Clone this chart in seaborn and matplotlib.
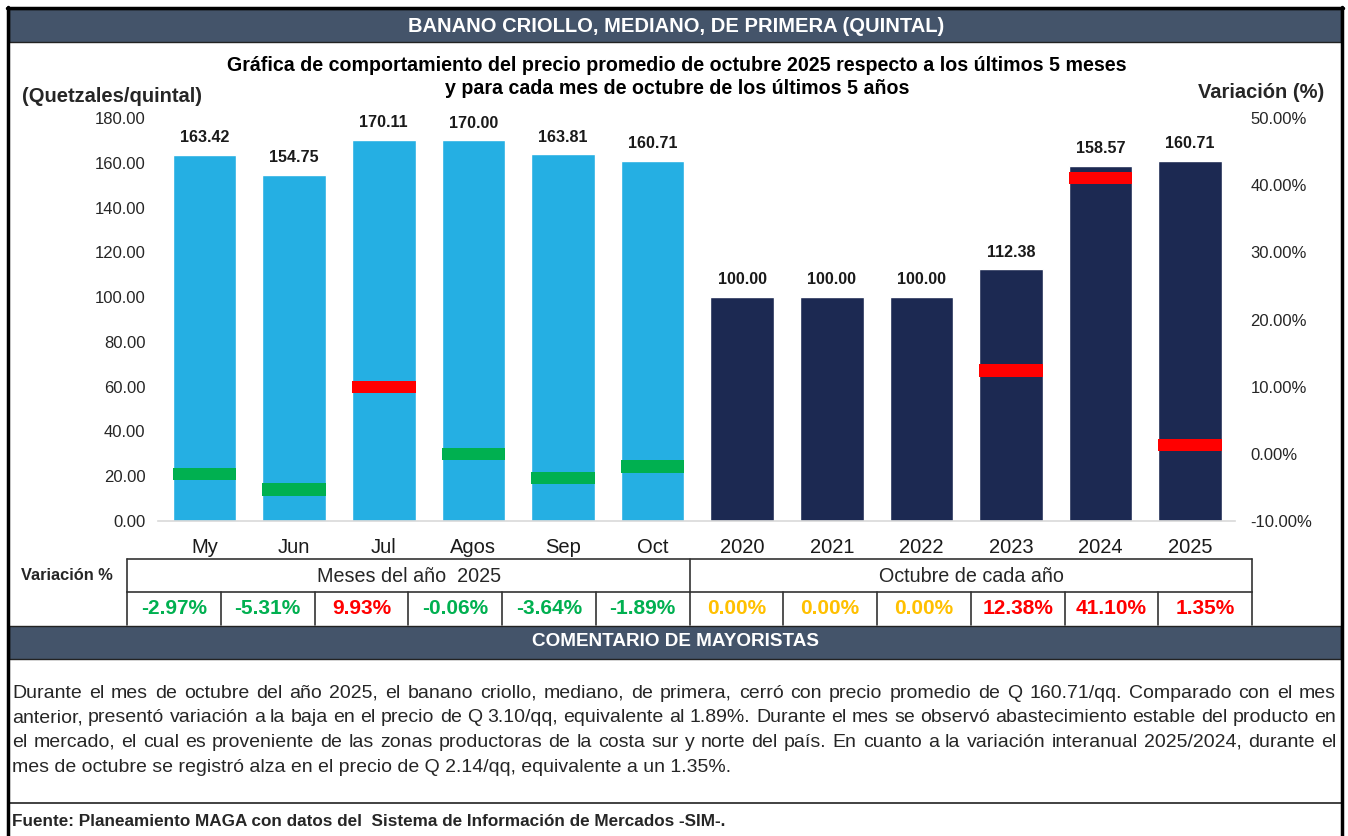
import matplotlib
matplotlib.use('Agg')
import matplotlib.pyplot as plt
import numpy as np
import pandas as pd
import seaborn as sns
from matplotlib.patches import Rectangle
from matplotlib.lines import Line2D
from matplotlib.ticker import FuncFormatter, MultipleLocator

# data
categorias = ['My', 'Jun', 'Jul', 'Agos', 'Sep', 'Oct',
              '2020', '2021', '2022', '2023', '2024', '2025']
grupos = ['mes'] * 6 + ['anio'] * 6
precios = [163.42, 154.75, 170.11, 170.00, 163.81, 160.71,
           100.00, 100.00, 100.00, 112.38, 158.57, 160.71]
variacion = [-2.97, -5.31, 9.93, -0.06, -3.64, -1.89,
             0.00, 0.00, 0.00, 12.38, 41.10, 1.35]
variacion_txt = ['-2.97%', '-5.31%', '9.93%', '-0.06%', '-3.64%', '-1.89%',
                 '0.00%', '0.00%', '0.00%', '12.38%', '41.10%', '1.35%']

titulo = 'BANANO CRIOLLO, MEDIANO, DE PRIMERA (QUINTAL)'
subtitulo = ('Gráfica de comportamiento del precio promedio de octubre 2025 respecto a los últimos 5 meses\n'
             'y para cada mes de octubre de los últimos 5 años')
comentario = [
    'Durante el mes de octubre del año 2025, el banano criollo, mediano, de primera, cerró con precio promedio de Q 160.71/qq. Comparado con el mes',
    'anterior, presentó variación a la baja en el precio de Q 3.10/qq, equivalente al 1.89%. Durante el mes se observó abastecimiento estable del producto en',
    'el mercado, el cual es proveniente de las zonas productoras de la costa sur y norte del país. En cuanto a la variación interanual 2025/2024, durante el',
    'mes de octubre se registró alza en el precio de Q 2.14/qq, equivalente a un 1.35%.',
]
fuente = 'Fuente: Planeamiento MAGA con datos del  Sistema de Información de Mercados -SIM-.'

AZUL = '#25AFE3'
MARINO = '#1C2952'
PIZARRA = '#44546A'
VERDE = '#00B050'
ROJO = '#FF0000'
AMARILLO = '#FFC000'

sns.set_style('white')
plt.rcParams['font.family'] = ['Liberation Sans', 'DejaVu Sans']

W, H = 1348, 836
fig = plt.figure(figsize=(W / 100, H / 100), dpi=100)


def fx(x):
    return x / W


def fy(y):
    return 1 - y / H


def caja(x0, y0, x1, y1, **kw):
    fig.add_artist(Rectangle((fx(x0), fy(y1)), (x1 - x0) / W, (y1 - y0) / H,
                             transform=fig.transFigure, **kw))


def linea(xs, ys, **kw):
    fig.add_artist(Line2D([fx(x) for x in xs], [fy(y) for y in ys],
                          transform=fig.transFigure, **kw))


# chart area
ax = fig.add_axes([fx(158), fy(521), (1235 - 158) / W, (521 - 118) / H])
df = pd.DataFrame({'categoria': categorias, 'precio': precios, 'grupo': grupos})
sns.barplot(data=df, x='categoria', y='precio', hue='grupo', dodge=False,
            palette={'mes': AZUL, 'anio': MARINO}, saturation=1, width=0.71,
            legend=False, ax=ax)
for cont in ax.containers:
    ax.bar_label(cont, fmt='%.2f', padding=7, fontsize=11.6, fontweight='bold',
                 color='#1a1a1a')
ax.set_ylim(0, 180)
ax.set_xlim(-0.52, 11.5)
ax.yaxis.set_major_locator(MultipleLocator(20))
ax.yaxis.set_major_formatter(FuncFormatter(lambda v, p: f'{v:.2f}'))
ax.set_xlabel('')
ax.set_ylabel('')
ax.tick_params(axis='y', length=0, pad=9, labelsize=12, labelcolor='#262626')
ax.tick_params(axis='x', length=0, pad=12, labelsize=14.5, labelcolor='#1a1a1a')
for s in ['top', 'right', 'left']:
    ax.spines[s].set_visible(False)
ax.spines['bottom'].set_color('#D9D9D9')
ax.spines['bottom'].set_linewidth(1.2)

# variation markers on the secondary axis
ax2 = ax.twinx()
ax2.set_ylim(-10, 50)
grosor = 1.85
pos = np.arange(len(categorias))
for p, v in zip(pos, variacion):
    if v == 0:
        continue
    ax2.bar(p, grosor, bottom=v - grosor / 2, width=0.71,
            color=VERDE if v < 0 else ROJO, linewidth=0)
ax2.yaxis.set_major_locator(MultipleLocator(10))
ax2.yaxis.set_major_formatter(FuncFormatter(lambda v, p: f'{v:.2f}%'))
ax2.tick_params(axis='y', length=0, pad=11, labelsize=12, labelcolor='#262626')
for s in ax2.spines.values():
    s.set_visible(False)
ax2.grid(False)
ax.grid(False)

# header bars
caja(9, 9, 1341, 42, facecolor=PIZARRA, edgecolor='#222222', linewidth=1)
fig.text(fx(676), fy(26), titulo, ha='center', va='center', color='white',
         fontsize=14.5, fontweight='bold')
fig.text(fx(677), fy(77), subtitulo, ha='center', va='center', color='black',
         fontsize=14.1, fontweight='bold', linespacing=1.3)
fig.text(fx(112), fy(96), '(Quetzales/quintal)', ha='center', va='center',
         fontsize=14.5, fontweight='bold')
fig.text(fx(1261), fy(92), 'Variación (%)', ha='center', va='center',
         fontsize=14.5, fontweight='bold')

# variation table
fig.text(fx(67), fy(576), 'Variación %', ha='center', va='center',
         fontsize=11.8, fontweight='bold')
bordes = np.linspace(127, 1252, len(categorias) + 1)
lk = dict(color='#333333', linewidth=1.2)
linea([127, 1252], [559, 559], **lk)
linea([127, 1252], [592, 592], **lk)
for xb in [127, 690, 1252]:
    linea([xb, xb], [559, 592], **lk)
for xb in bordes:
    linea([xb, xb], [592, 625], **lk)
fig.text(fx(409), fy(576), 'Meses del año  2025', ha='center', va='center',
         fontsize=14.2)
fig.text(fx(971), fy(576), 'Octubre de cada año', ha='center', va='center',
         fontsize=14.2)
for i, (v, t) in enumerate(zip(variacion, variacion_txt)):
    col = VERDE if v < 0 else (ROJO if v > 0 else AMARILLO)
    fig.text(fx((bordes[i] + bordes[i + 1]) / 2), fy(609), t, ha='center',
             va='center', fontsize=15, fontweight='bold', color=col)

# comment section
caja(9, 626, 1341, 659, facecolor=PIZARRA, edgecolor='#222222', linewidth=1)
fig.text(fx(676), fy(642), 'COMENTARIO DE MAYORISTAS', ha='center', va='center',
         color='white', fontsize=13.6, fontweight='bold')

renderer = fig.canvas.get_renderer()
x_ini, x_fin = 12, 1336
for k, txt in enumerate(comentario):
    yb = 693 + k * 24.7
    if k == len(comentario) - 1:
        fig.text(fx(x_ini), fy(yb), txt, ha='left', va='center', fontsize=14.0)
        continue
    palabras = txt.split(' ')
    objs = [fig.text(0, fy(yb), w, ha='left', va='center', fontsize=14.0)
            for w in palabras]
    anchos = [o.get_window_extent(renderer).width for o in objs]
    hueco = (x_fin - x_ini - sum(anchos)) / (len(palabras) - 1)
    xc = x_ini
    for o, a in zip(objs, anchos):
        o.set_x(fx(xc))
        xc += a + hueco

linea([9, 1341], [803, 803], color='#333333', linewidth=1.3)
fig.text(fx(12), fy(822), fuente, ha='left', va='center', fontsize=12.3,
         fontweight='bold')

# outer frame
linea([8, 8], [7, 836], color='black', linewidth=2.5)
linea([1342, 1342], [7, 836], color='black', linewidth=2.5)
linea([7, 1343], [8, 8], color='black', linewidth=2.5)

fig.savefig('out.png', dpi=100)
